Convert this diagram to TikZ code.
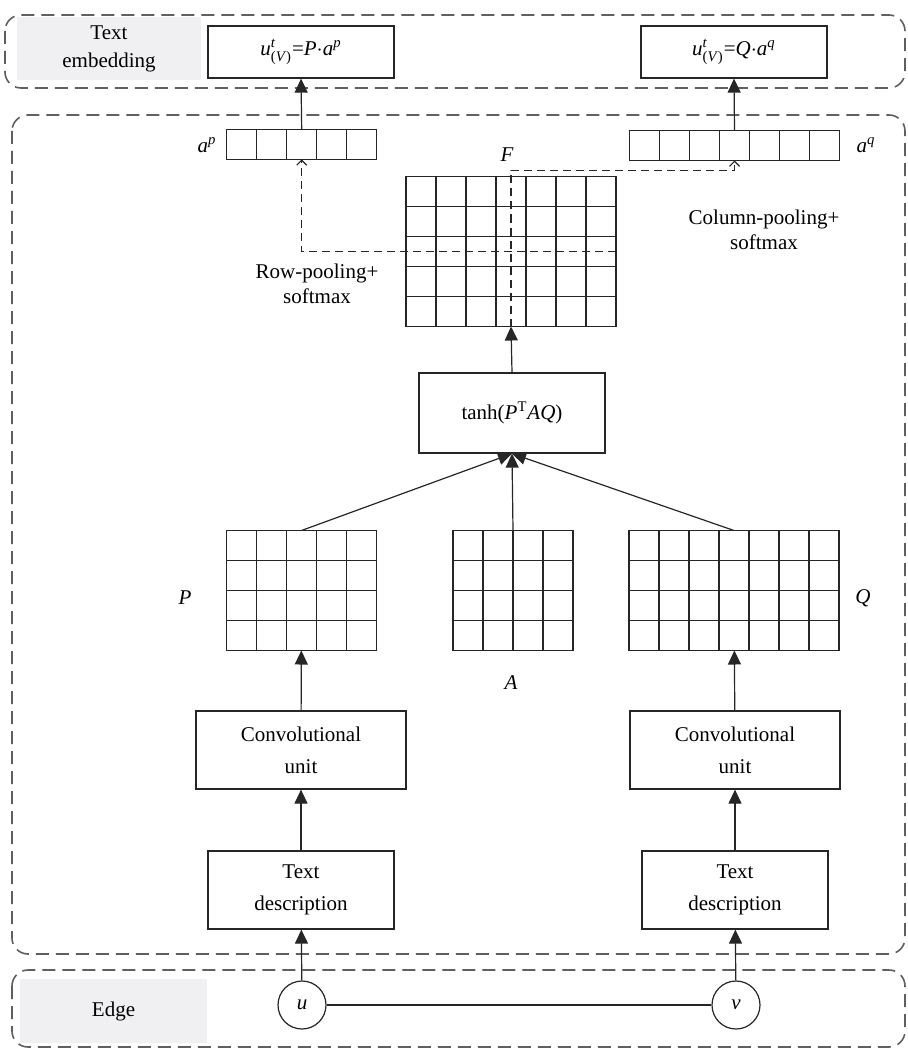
\documentclass[tikz,border=0pt]{standalone}
\usepackage{amsmath}
\usepackage{fontspec}
\setmainfont{Liberation Serif}
\usetikzlibrary{arrows.meta, positioning}

\definecolor{tagfill}{RGB}{240,240,242}
\definecolor{framegray}{RGB}{95,95,95}

\begin{document}
\begin{tikzpicture}[
    x=0.5pt, y=-0.5pt,
    line width=0.6pt,
    font=\fontsize{10.5}{16}\selectfont,
    box node/.style={draw=black!85, align=center, inner sep=0pt, minimum width=93pt, minimum height=39pt},
    grid node/.style={draw=black!85, inner sep=0pt, outer sep=0pt},
    tag node/.style={fill=tagfill, align=center, inner sep=0pt},
    group frame/.style={draw=framegray, line width=0.8pt, dash pattern=on 6.5pt off 3.5pt, rounded corners=8pt},
    connection/.style={-{Triangle[length=7pt,width=6.5pt]}, black!85},
    pool connection/.style={-{Straight Barb[length=2.5pt,width=5pt]}, black!85, dash pattern=on 4pt off 2.5pt},
    cell lines/.style={black!85, step=15pt},
    pool label/.style={align=center, font=\fontsize{10.5}{12.5}\selectfont}
]
\useasboundingbox (0,0) rectangle (907,1048);

% Dashed group frames
\draw[group frame] (5,15) rectangle (905,88);
\draw[group frame] (12,115) rectangle (905,954);
\draw[group frame] (12,970) rectangle (905,1047);

% Text embedding row
\node[tag node, minimum width=92pt, minimum height=31.5pt, font=\fontsize{10.5}{14}\selectfont] (embtag) at (109,48.5) {Text\\embedding};
\node[box node, minimum height=26pt] (embp) at (301,52) {$\textit{u}^{\textit{t}}_{\text{(\textit{V})}}$=\textit{P}$\cdot$\textit{a}\textsuperscript{\textit{p}}};
\node[box node, minimum height=26pt] (embq) at (734,52) {$\textit{u}^{\textit{t}}_{\text{(\textit{V})}}$=\textit{Q}$\cdot$\textit{a}\textsuperscript{\textit{q}}};

% Attention vectors and matrix F
\node[grid node, minimum width=75pt, minimum height=15pt] (ap) at (301.7,144.3) {};
\node[grid node, minimum width=105pt, minimum height=15pt] (aq) at (734.5,145.5) {};
\node (aplbl) at (207,145) {\textit{a}\textsuperscript{\textit{p}}};
\node (aqlbl) at (866,145) {\textit{a}\textsuperscript{\textit{q}}};
\node (Flbl) at (507,155) {\textit{F}};
\node[grid node, minimum width=105pt, minimum height=75pt] (F) at (511,251.5) {};

\node[pool label] (rowlbl) at (317,284) {Row-pooling+\\softmax};
\node[pool label] (collbl) at (764,230) {Column-pooling+\\softmax};

% Attention unit
\node[box node, minimum height=40pt] (tanh) at (512,413) {tanh(\textit{P}\textsuperscript{T}\textit{AQ})};

% Feature maps
\node[grid node, minimum width=75pt, minimum height=60pt] (P) at (301.5,590.5) {};
\node[grid node, minimum width=60pt, minimum height=60pt] (A) at (513,590.5) {};
\node[grid node, minimum width=105pt, minimum height=60pt] (Q) at (734,590.5) {};
\node (Plbl) at (185,598) {\textit{P}};
\node (Qlbl) at (863,598) {\textit{Q}};
\node (Albl) at (511,683) {\textit{A}};

% Cells of all matrices
\foreach \g/\w/\h in {ap/75/15, aq/105/15, F/105/75, P/75/60, A/60/60, Q/105/60}
    \draw[cell lines, shift={(\g.south west)}] (0pt,0pt) grid (\w pt,\h pt);

% Convolution and input boxes
\node[box node, minimum width=105pt] (convp) at (301,750) {Convolutional\\unit};
\node[box node, minimum width=105pt] (convq) at (735,750) {Convolutional\\unit};
\node[box node] (descp) at (301,890) {Text\\description};
\node[box node] (descq) at (735,890) {Text\\description};

% Edge row
\node[tag node, minimum width=93.5pt, minimum height=32pt] (edgetag) at (113.5,1011) {Edge};
\node[draw=black!85, circle, minimum size=24pt, inner sep=0pt] (u) at (302,1005) {\textit{u}};
\node[draw=black!85, circle, minimum size=24pt, inner sep=0pt] (v) at (736,1005) {\textit{v}};

% Connections
\draw[black!85] (u) -- (v);
\draw[connection] (u) -- (descp);
\draw[connection] (v) -- (descq);
\draw[connection] (descp) -- (convp);
\draw[connection] (descq) -- (convq);
\draw[connection] (convp) -- (P);
\draw[connection] (convq) -- (Q);
\draw[connection] (P.north) -- (tanh.south);
\draw[connection] (A.north) -- (tanh.south);
\draw[connection] (Q.north) -- (tanh.south);
\draw[connection] (tanh.north) -- (F.south);
\draw[connection] (ap.north) -- (embp.south);
\draw[connection] (aq.north) -- (embq.south);

% Pooling paths
\draw[pool connection] (F.east) -| (ap.south);
\draw[pool connection] (F.south) |- ([yshift=-5pt]aq.south) -- (aq.south);

\end{tikzpicture}
\end{document}
